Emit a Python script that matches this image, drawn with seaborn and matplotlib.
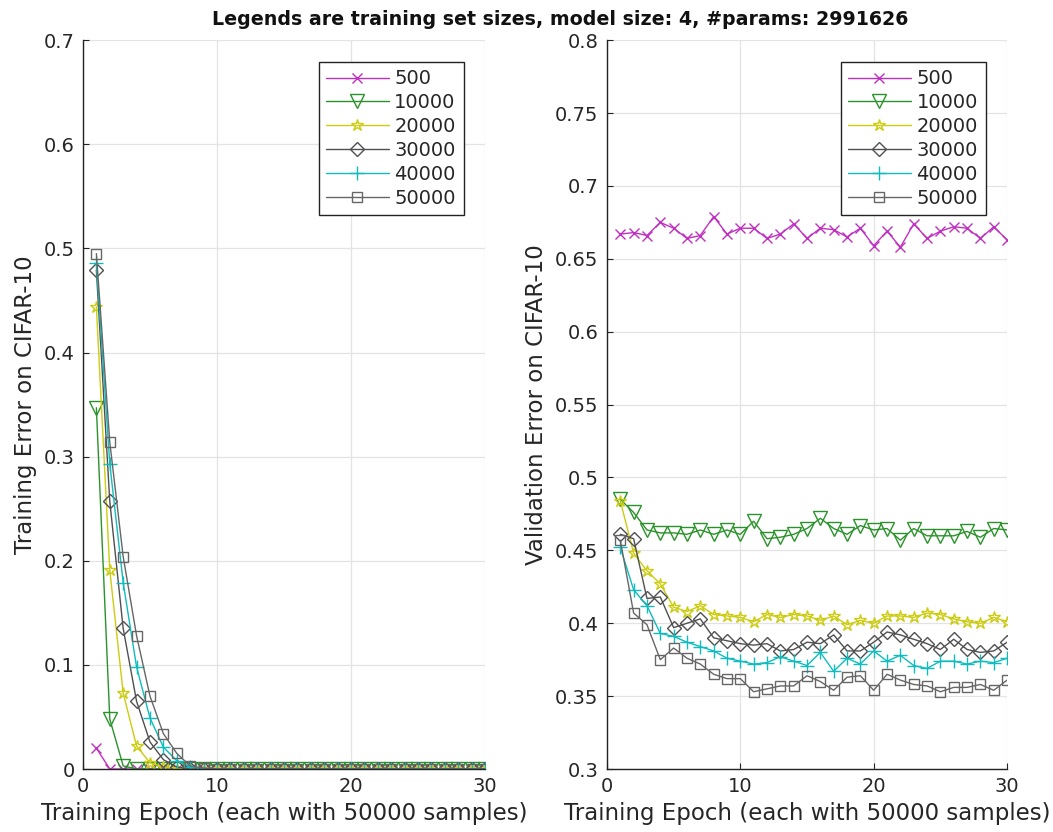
import numpy as np
import pandas as pd
import matplotlib
matplotlib.use("Agg")
import matplotlib.pyplot as plt
from matplotlib.ticker import FormatStrFormatter
import seaborn as sns

# ---------------------------------------------------------------------------
# data
# ---------------------------------------------------------------------------
epochs = list(range(1, 31))
sizes = ["500", "10000", "20000", "30000", "40000", "50000"]

train_500 = [0.020, 0.0] + [0.0] * 28
train_10000 = [0.347, 0.048, 0.003] + [0.0] * 27
train_20000 = [0.444, 0.191, 0.073, 0.022, 0.006, 0.002] + [0.0] * 24
train_30000 = [0.479, 0.257, 0.135, 0.065, 0.026, 0.009, 0.002] + [0.0] * 23
train_40000 = [0.486, 0.293, 0.179, 0.098, 0.049, 0.021, 0.008, 0.002] + [0.0] * 22
train_50000 = [0.495, 0.314, 0.204, 0.128, 0.070, 0.034, 0.015, 0.003, 0.001] + [0.0] * 21

val_500 = [0.667, 0.668, 0.666, 0.675, 0.671, 0.664, 0.666, 0.679, 0.667, 0.671,
           0.671, 0.664, 0.667, 0.674, 0.664, 0.671, 0.670, 0.665, 0.671, 0.659,
           0.669, 0.658, 0.674, 0.664, 0.669, 0.672, 0.671, 0.664, 0.672, 0.663]
val_10000 = [0.485, 0.476, 0.464, 0.462, 0.462, 0.461, 0.464, 0.461, 0.464, 0.461,
             0.470, 0.458, 0.459, 0.461, 0.465, 0.472, 0.465, 0.461, 0.467, 0.464,
             0.465, 0.457, 0.465, 0.460, 0.460, 0.460, 0.463, 0.459, 0.465, 0.464]
val_20000 = [0.484, 0.448, 0.436, 0.427, 0.411, 0.408, 0.412, 0.406, 0.405, 0.404,
             0.401, 0.406, 0.404, 0.406, 0.405, 0.402, 0.405, 0.399, 0.402, 0.400,
             0.405, 0.405, 0.404, 0.407, 0.406, 0.403, 0.401, 0.400, 0.404, 0.401]
val_30000 = [0.461, 0.458, 0.417, 0.418, 0.397, 0.400, 0.403, 0.390, 0.388, 0.386,
             0.385, 0.386, 0.381, 0.382, 0.387, 0.386, 0.392, 0.381, 0.381, 0.387,
             0.394, 0.392, 0.389, 0.386, 0.382, 0.389, 0.382, 0.380, 0.381, 0.387]
val_40000 = [0.452, 0.423, 0.412, 0.393, 0.391, 0.387, 0.384, 0.381, 0.376, 0.374,
             0.372, 0.373, 0.377, 0.374, 0.371, 0.380, 0.367, 0.376, 0.372, 0.381,
             0.374, 0.378, 0.371, 0.369, 0.374, 0.374, 0.372, 0.374, 0.373, 0.376]
val_50000 = [0.457, 0.407, 0.399, 0.375, 0.383, 0.376, 0.372, 0.365, 0.362, 0.362,
             0.353, 0.355, 0.357, 0.357, 0.364, 0.360, 0.354, 0.363, 0.364, 0.354,
             0.365, 0.361, 0.358, 0.357, 0.353, 0.356, 0.356, 0.358, 0.354, 0.361]

train_err = [train_500, train_10000, train_20000, train_30000, train_40000, train_50000]
val_err = [val_500, val_10000, val_20000, val_30000, val_40000, val_50000]

colors = ["#c030c0", "#2a922a", "#cccc10", "#505050", "#10bcbc", "#666666"]
markers = ["x", "v", "*", "D", "+", "s"]
msizes = [7, 9.5, 9, 7.5, 10, 7]

# ---------------------------------------------------------------------------
sns.set_theme(style="whitegrid")
plt.rcParams["font.family"] = ["DejaVu Sans"]

fig = plt.figure(figsize=(10.53, 8.32), dpi=100)
ax_l = fig.add_axes([0.0788, 0.0757, 0.3818, 0.876])
ax_r = fig.add_axes([0.5764, 0.0757, 0.3800, 0.876])


def draw(ax, series, ylim, yticks, ylabel):
    for i, lab in enumerate(sizes):
        sns.lineplot(x=epochs, y=series[i], ax=ax, color=colors[i],
                     marker=markers[i], markersize=msizes[i],
                     markerfacecolor="none", markeredgecolor=colors[i],
                     markeredgewidth=1.0, linewidth=1.0, label=lab)
    ax.set_xlim(0, 30)
    ax.set_ylim(*ylim)
    ax.set_xticks([0, 10, 20, 30])
    ax.set_yticks(yticks)
    ax.yaxis.set_major_formatter(FormatStrFormatter("%g"))
    ax.grid(True, color="#e3e3e3", linewidth=0.9)
    ax.set_facecolor("white")
    for s in ["top", "right"]:
        ax.spines[s].set_visible(False)
    for s in ["left", "bottom"]:
        ax.spines[s].set_color("#222222")
        ax.spines[s].set_linewidth(1.0)
    ax.tick_params(direction="in", length=4, width=0.8, color="#222222",
                   labelsize=14, labelcolor="#262626", pad=6,
                   left=True, bottom=True)
    ax.set_xlabel("Training Epoch (each with 50000 samples)", fontsize=16.5,
                  color="#262626", labelpad=4)
    ax.set_ylabel(ylabel, fontsize=16.5, color="#262626", labelpad=5)
    leg = ax.legend(loc="upper right", fontsize=14, frameon=True, fancybox=False,
                    handlelength=3.2, borderaxespad=1.1, labelspacing=0.25,
                    borderpad=0.4, handletextpad=0.3)
    leg.get_frame().set_edgecolor("#222222")
    leg.get_frame().set_linewidth(1.0)
    leg.get_frame().set_alpha(1.0)


draw(ax_l, train_err, (0, 0.7), np.arange(0, 0.71, 0.1),
     "Training Error on CIFAR-10")
draw(ax_r, val_err, (0.3, 0.8), np.arange(0.3, 0.801, 0.05),
     "Validation Error on CIFAR-10")

fig.suptitle("Legends are training set sizes, model size: 4, #params: 2991626",
             fontsize=13.7, fontweight="bold", y=0.988, x=0.532, color="#111111")

fig.savefig("out.png", dpi=100)
